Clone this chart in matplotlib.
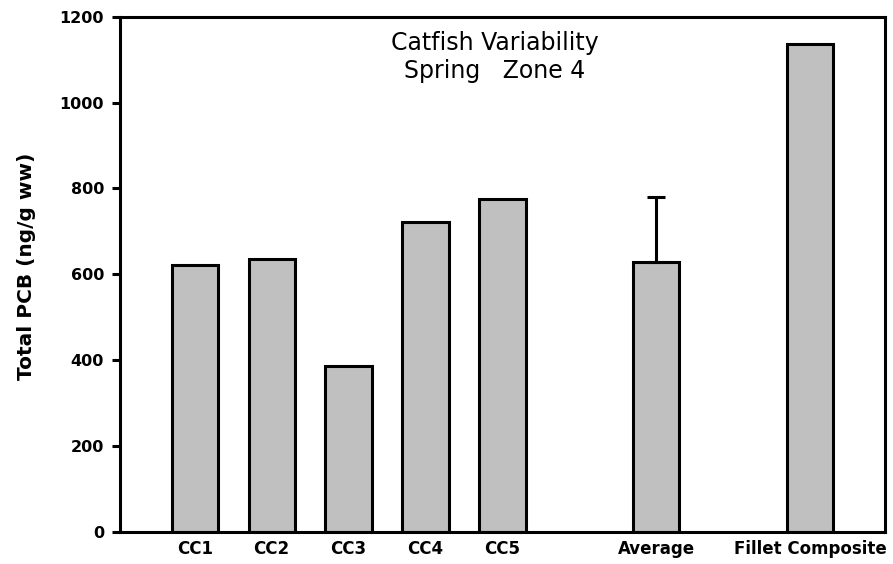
import numpy as np
import matplotlib.pyplot as plt

plt.rcParams['font.family'] = ['DejaVu Sans']

labels = ['CC1', 'CC2', 'CC3', 'CC4', 'CC5', 'Average', 'Fillet Composite']
positions = [0, 1, 2, 3, 4, 6, 8]
values = [622, 636, 385, 721, 776, 628, 1136]
upper_err = [0, 0, 0, 0, 0, 153, 0]

fig = plt.figure(figsize=(8.93, 5.64), dpi=100)
ax = fig.add_axes([0.1344, 0.0576, 0.8566, 0.9123])

ax.bar(positions, values, width=0.6, color='#C0C0C0', edgecolor='black', linewidth=2.2)
# only the upward half of the error bar is drawn
err_x = [p for p, e in zip(positions, upper_err) if e > 0]
err_y = [v for v, e in zip(values, upper_err) if e > 0]
err_e = [e for e in upper_err if e > 0]
ax.errorbar(err_x, err_y, yerr=[[0] * len(err_e), err_e], fmt='none',
            ecolor='black', elinewidth=2.2, capsize=6.5, capthick=2.2)

ax.set_xlim(-0.97, 8.97)
ax.set_ylim(0, 1200)
ax.set_yticks(np.arange(0, 1201, 200))
ax.set_xticks(positions)
ax.set_xticklabels(labels, fontweight='bold', fontsize=12)
ax.tick_params(axis='x', length=0, pad=6)
ax.tick_params(axis='y', direction='out', length=5.5, width=2.2, labelsize=11.5, pad=6)
for t in ax.get_yticklabels():
    t.set_fontweight('bold')
for s in ax.spines.values():
    s.set_linewidth(2.2)

ax.set_ylabel('Total PCB (ng/g ww)', fontsize=14.5, fontweight='bold')
ax.yaxis.set_label_coords(-0.11, 0.515)
ax.text(0.49, 0.972, 'Catfish Variability\nSpring   Zone 4', transform=ax.transAxes,
        ha='center', va='top', fontsize=17, linespacing=1.2)

fig.savefig('out.png', dpi=100)
